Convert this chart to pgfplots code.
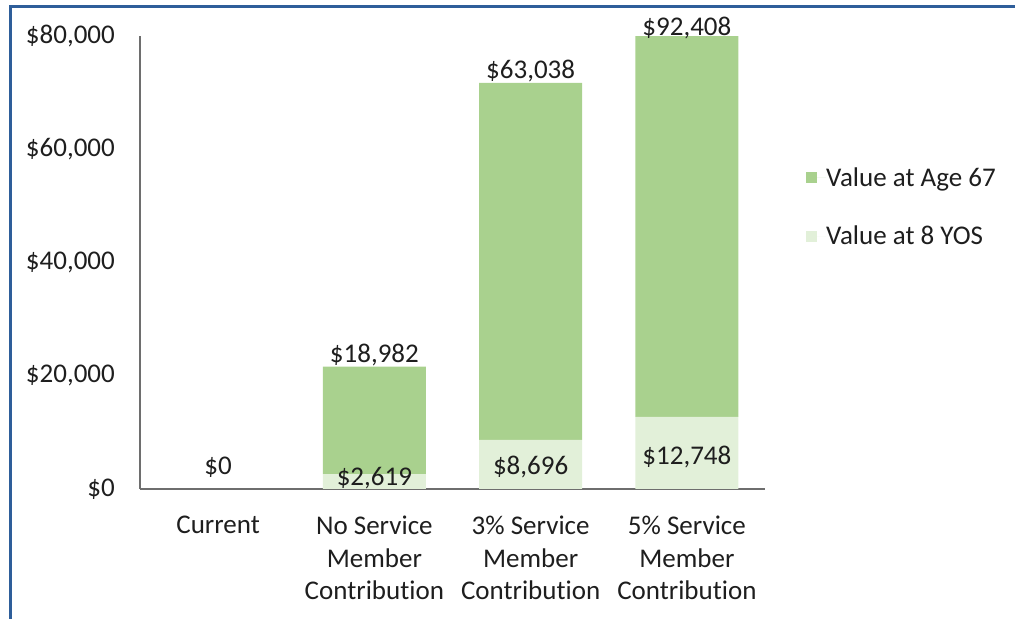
\documentclass[border=0pt]{standalone}
\usepackage{fontspec}
\setmainfont{Carlito}[Ligatures=NoCommon]
\usepackage{pgfplots}
\pgfplotsset{compat=1.18}
\definecolor{dgreen}{RGB}{169,209,142}
\definecolor{lgreen}{RGB}{226,240,217}
\definecolor{bblue}{RGB}{46,94,154}
\definecolor{axgray}{RGB}{110,110,110}
\definecolor{txt}{RGB}{30,30,30}
\newcommand{\f}{\fontsize{27bp}{32.5bp}\selectfont}
\begin{document}
\begin{tikzpicture}
\useasboundingbox (0,0) rectangle (1015bp,619bp);
\draw[line width=3bp,bblue] (10bp,-2bp) -- (10bp,612.5bp) -- (1017bp,612.5bp);
\begin{axis}[
  at={(140bp,130bp)}, anchor=south west, scale only axis,
  width=625bp, height=453bp,
  ybar stacked, bar width=103bp,
  xmin=-0.5, xmax=3.5, ymin=0, ymax=80000,
  scaled y ticks=false,
  xtick={0,1,2,3},
  xticklabels={Current, No Service\\Member\\Contribution, 3\% Service\\Member\\Contribution, 5\% Service\\Member\\Contribution},
  xticklabel style={align=center, font=\f, text=txt, anchor=north, inner sep=0pt, yshift=-27bp},
  ytick={0,20000,40000,60000,80000},
  yticklabels={{\$0},{\$20,000},{\$40,000},{\$60,000},{\$80,000}},
  yticklabel style={font=\f, text=txt, anchor=east, inner sep=0pt, xshift=-25bp},
  axis x line*=bottom, axis y line*=left,
  axis line style={axgray, line width=1.5bp},
  major tick length=0pt,
  clip mode=individual,
  reverse legend,
  legend style={at={(1.0656,0.6225)}, anchor=west, draw=none, fill=none, font=\f, text=txt,
    inner sep=0pt, row sep=38bp, nodes={inner sep=0pt}},
  legend cell align=left,
  legend image code/.code={\fill[#1] (0bp,-5.5bp) rectangle (11bp,5.5bp); \path (0bp,0bp) -- (20bp,0bp);},
]
\addplot[fill=lgreen, draw=none] coordinates {(0,0) (1,2619) (2,8696) (3,12748)};
\addplot[fill=dgreen, draw=none] coordinates {(0,0) (1,18982) (2,63038) (3,92408)};
\legend{Value at 8 YOS, Value at Age 67}
\coordinate (l0) at (axis cs:0,4238);
\coordinate (l1) at (axis cs:1,2296);
\coordinate (l2) at (axis cs:2,4238);
\coordinate (l3) at (axis cs:3,6004);
\coordinate (t1) at (axis cs:1,24018);
\coordinate (t2) at (axis cs:2,74172);
\coordinate (t3) at (axis cs:3,81943);
\end{axis}
\begin{scope}[every node/.style={font=\f, text=txt, yshift=-2bp}]
\node at (l0) {\$0};
\node at (l1) {\$2,619};
\node at (l2) {\$8,696};
\node at (l3) {\$12,748};
\node at (t1) {\$18,982};
\node at (t2) {\$63,038};
\node[yshift=-1bp] at (t3) {\$92,408};
\end{scope}
\end{tikzpicture}
\end{document}
